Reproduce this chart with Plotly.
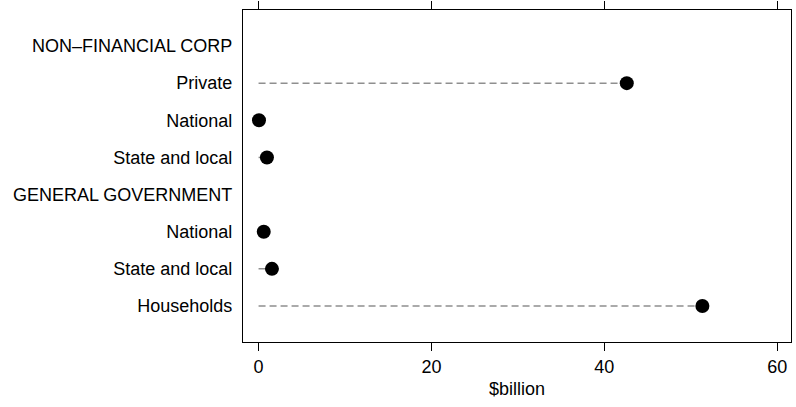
import plotly.graph_objects as go

categories = ["NON\u2013FINANCIAL CORP", "Private", "National", "State and local",
              "GENERAL GOVERNMENT", "National", "State and local", "Households"]
values = [None, 42.6, 0.05, 0.97, None, 0.6, 1.55, 51.35]
x_ticks = [0, 20, 40, 60]
x_title = "$billion"

positions = list(range(len(categories)))

fig = go.Figure()

# dashed leader lines from 0 to value
for pos, v in zip(positions, values):
    if v is None:
        continue
    fig.add_trace(go.Scatter(
        x=[0, v], y=[pos, pos], mode="lines",
        line=dict(color="#8f8f8f", width=1.5, dash="7px,4px"),
        hoverinfo="skip", showlegend=False))

px = [v for v in values if v is not None]
py = [p for p, v in zip(positions, values) if v is not None]
fig.add_trace(go.Scatter(
    x=px, y=py, mode="markers",
    marker=dict(color="black", size=14, line=dict(width=0)),
    showlegend=False))

font = dict(family="Liberation Sans, Arial, sans-serif", size=18, color="#000000")

fig.update_layout(
    width=796, height=407,
    margin=dict(l=243, r=5, t=10, b=65, autoexpand=False),
    paper_bgcolor="white", plot_bgcolor="white",
    font=font,
    showlegend=False,
)
fig.update_xaxes(
    range=[-1.8, 61.6], tickvals=x_ticks, ticktext=[str(t) for t in x_ticks],
    showgrid=False, zeroline=False, automargin=False,
    showline=True, linecolor="black", linewidth=1.2, mirror="ticks",
    ticks="outside", ticklen=8, tickwidth=1.2, tickcolor="black",
    title=dict(text=x_title, standoff=6, font=font),
    tickfont=font,
)
fig.update_yaxes(
    range=[7.97, -0.97], tickvals=positions, ticktext=categories,
    showgrid=False, zeroline=False, automargin=False,
    showline=True, linecolor="black", linewidth=1.2, mirror=True,
    ticks="", ticklabelstandoff=6, tickfont=font,
)

fig.write_html(
    "out.html",
    config={"displayModeBar": False},
    post_script="document.body.style.margin='0';document.body.style.overflow='hidden';",
)
